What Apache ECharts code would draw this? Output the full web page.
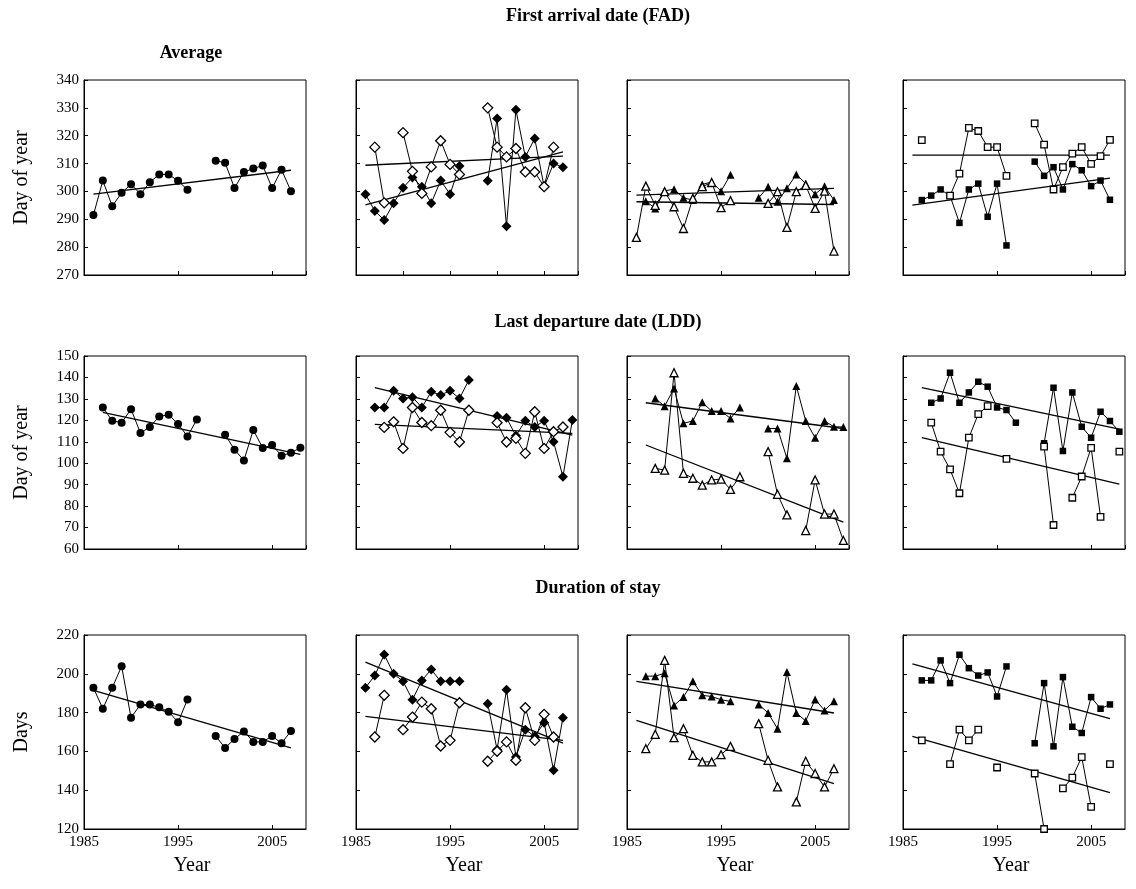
<!DOCTYPE html>
<html><head><meta charset="utf-8">
<script src="https://cdn.jsdelivr.net/npm/echarts@6/dist/echarts.min.js"></script>
<style>html,body{margin:0;padding:0;background:#fff}#c{width:1136px;height:889px}</style>
</head><body><div id="c"></div>
<script>
// Years 1986..2008 (index 0..22)
const years = [1986,1987,1988,1989,1990,1991,1992,1993,1994,1995,1996,1997,1998,1999,2000,2001,2002,2003,2004,2005,2006,2007,2008];
const xTickLabels = ['1985','1995','2005'];

// ---- First arrival date (FAD) ----
const fadAverage      = [291.5,303.9,294.7,299.5,302.6,299.0,303.3,306.1,306.1,303.8,300.6,null,null,311.0,310.3,301.2,307.0,308.2,309.3,301.2,307.8,300.1,null];
const fadDiamondFill  = [299.0,293.0,289.7,295.8,301.3,305.0,301.7,295.8,303.9,299.0,309.1,null,null,303.8,326.2,287.5,329.3,312.4,319.0,301.7,310.0,308.7,null];
const fadDiamondOpen  = [null,315.9,295.9,null,321.1,307.2,299.3,308.8,318.2,309.7,306.1,null,null,330.0,315.9,312.4,315.4,307.0,307.0,301.7,315.9,null,null];
const fadTriFill      = [null,296.5,293.9,300.2,300.8,297.7,296.9,302.5,303.4,300.1,306.0,null,null,297.7,301.7,296.3,301.1,306.1,302.8,299.0,301.9,296.9,null];
const fadTriOpen      = [283.5,301.9,295.0,299.9,294.5,286.7,297.5,301.7,303.2,294.2,296.7,null,null,null,295.7,299.9,287.1,299.9,302.2,293.9,300.1,278.6,null];
const fadSqFill       = [null,296.9,298.5,300.7,298.4,288.7,300.7,302.8,290.9,302.8,280.6,null,null,310.7,305.6,308.7,300.7,309.8,307.6,301.9,303.9,297.0,null];
const fadSqOpen       = [null,318.4,null,null,298.5,306.4,322.8,321.7,315.9,315.9,305.6,null,null,324.4,316.8,300.7,308.7,313.6,315.9,309.9,312.7,318.5,null];
const fadAverageTrend     = [[1986,299.0],[2007,307.6]];
const fadDiamondFillTrend = [[1986,295.2],[2007,314.2]];
const fadDiamondOpenTrend = [[1986,309.4],[2007,312.7]];
const fadTriFillTrend     = [[1986,298.7],[2007,301.1]];
const fadTriOpenTrend     = [[1986,296.3],[2007,295.3]];
const fadSqFillTrend      = [[1986,295.1],[2007,304.8]];
const fadSqOpenTrend      = [[1986,313.0],[2007,313.0]];

// ---- Last departure date (LDD) ----
const lddAverage      = [null,126.0,119.8,118.9,125.2,114.1,116.9,121.8,122.6,118.3,112.5,120.4,null,null,113.3,106.3,101.3,115.5,107.1,108.5,103.5,104.9,107.2];
const lddDiamondFill  = [null,126.0,126.0,133.8,130.2,130.8,126.0,133.3,131.8,133.8,130.2,138.8,null,null,122.0,121.2,112.8,119.8,116.9,119.8,110.0,93.7,120.1];
const lddDiamondOpen  = [null,null,116.7,119.3,106.9,126.0,119.0,117.5,124.7,114.4,109.9,124.7,null,null,118.9,109.9,111.6,104.6,124.0,106.9,114.7,116.9,null];
const lddTriFill      = [null,null,130.2,126.6,134.9,118.6,119.7,128.4,124.3,124.3,120.9,126.0,null,null,116.2,116.2,102.3,136.0,119.7,111.9,119.7,117.0,116.9];
const lddTriOpen      = [null,null,97.6,96.8,142.2,95.3,93.0,89.8,92.2,92.6,87.8,93.7,null,null,105.4,85.5,75.9,null,68.6,92.2,76.3,76.3,64.0];
const lddSqFill       = [null,null,128.2,130.2,142.2,128.2,133.0,138.0,135.7,126.0,124.8,118.9,null,null,109.3,135.2,105.7,133.0,117.0,111.9,124.0,119.7,114.7];
const lddSqOpen       = [null,null,118.9,105.4,97.1,86.0,111.9,122.9,126.6,null,102.0,null,null,null,107.7,71.2,null,83.9,93.8,107.2,75.0,null,105.4];
const lddAverageTrend     = [[1987,123.7],[2008,104.1]];
const lddDiamondFillTrend = [[1987,135.2],[2008,113.1]];
const lddDiamondOpenTrend = [[1987,118.1],[2008,113.9]];
const lddTriFillTrend     = [[1987,128.2],[2008,116.2]];
const lddTriOpenTrend     = [[1987,108.5],[2008,72.5]];
const lddSqFillTrend      = [[1987,135.2],[2008,115.9]];
const lddSqOpenTrend      = [[1987,111.9],[2008,90.3]];

// ---- Duration of stay ----
const durAverage      = [192.8,182.0,192.8,203.9,177.4,184.2,184.2,182.7,180.5,175.0,186.8,null,null,167.9,161.8,166.4,170.3,164.9,164.9,167.9,164.2,170.5,null];
const durDiamondFill  = [192.8,199.1,209.9,200.0,196.1,186.6,196.6,202.2,196.1,196.2,196.1,null,null,184.6,160.9,191.8,157.1,171.2,167.8,174.8,150.3,177.4,null];
const durDiamondOpen  = [null,167.4,188.9,null,171.2,177.7,185.4,182.0,162.8,165.7,185.1,null,null,154.9,160.1,164.9,155.4,182.5,165.7,179.1,167.4,null,null];
const durTriFill      = [null,198.8,198.8,200.3,183.7,188.0,196.1,188.9,188.3,186.6,185.8,null,null,184.2,179.8,171.7,200.9,179.8,175.7,186.8,181.1,185.9,null];
const durTriOpen      = [null,161.4,168.8,206.9,167.1,171.7,158.0,154.6,154.6,158.3,162.6,null,null,174.3,155.4,141.7,null,134.0,154.9,148.6,141.7,151.1,null];
const durSqFill       = [null,196.6,196.6,206.9,195.2,209.8,202.9,199.1,200.7,188.3,203.8,null,null,164.2,195.2,162.6,198.3,172.7,169.5,188.0,182.0,184.2,null];
const durSqOpen       = [null,165.7,null,null,153.4,171.2,165.7,171.2,null,151.7,null,null,null,148.6,120.0,null,140.9,146.5,157.1,131.4,null,153.4,null];
const durAverageTrend     = [[1986,191.4],[2007,161.8]];
const durDiamondFillTrend = [[1986,206.0],[2007,164.3]];
const durDiamondOpenTrend = [[1986,178.1],[2007,165.7]];
const durTriFillTrend     = [[1986,196.1],[2007,179.8]];
const durTriOpenTrend     = [[1986,176.0],[2007,143.4]];
const durSqFillTrend      = [[1986,205.1],[2007,176.9]];
const durSqOpenTrend      = [[1986,167.8],[2007,138.8]];

const FONT = '"Liberation Serif", "Times New Roman", serif';
const rows = [
  {top: 80,  height: 195, min: 270, max: 340, interval: 10, yName: 'Day of year', title: 'First arrival date (FAD)', titleY: 16},
  {top: 356, height: 193, min: 60,  max: 150, interval: 10, yName: 'Day of year', title: 'Last departure date (LDD)', titleY: 322},
  {top: 635, height: 194, min: 120, max: 220, interval: 20, yName: 'Days', title: 'Duration of stay', titleY: 588}
];
const lefts = [84, 356, 627, 903];
const W = 222;
const XMIN = 1985, XMAX = 2008.6;

const SYM = {
  circle: {symbol: 'circle', size: 8},
  diamond: {symbol: 'diamond', size: 10},
  triangle: {symbol: 'triangle', size: 8},
  rect: {symbol: 'rect', size: 6.5}
};

const panels = [
  [[[fadAverage,'circle',true]], [fadAverageTrend]],
  [[[fadDiamondOpen,'diamond',false],[fadDiamondFill,'diamond',true]], [fadDiamondFillTrend, fadDiamondOpenTrend]],
  [[[fadTriOpen,'triangle',false],[fadTriFill,'triangle',true]], [fadTriFillTrend, fadTriOpenTrend]],
  [[[fadSqOpen,'rect',false],[fadSqFill,'rect',true]], [fadSqFillTrend, fadSqOpenTrend]],
  [[[lddAverage,'circle',true]], [lddAverageTrend]],
  [[[lddDiamondOpen,'diamond',false],[lddDiamondFill,'diamond',true]], [lddDiamondFillTrend, lddDiamondOpenTrend]],
  [[[lddTriOpen,'triangle',false],[lddTriFill,'triangle',true]], [lddTriFillTrend, lddTriOpenTrend]],
  [[[lddSqOpen,'rect',false],[lddSqFill,'rect',true]], [lddSqFillTrend, lddSqOpenTrend]],
  [[[durAverage,'circle',true]], [durAverageTrend]],
  [[[durDiamondOpen,'diamond',false],[durDiamondFill,'diamond',true]], [durDiamondFillTrend, durDiamondOpenTrend]],
  [[[durTriOpen,'triangle',false],[durTriFill,'triangle',true]], [durTriFillTrend, durTriOpenTrend]],
  [[[durSqOpen,'rect',false],[durSqFill,'rect',true]], [durSqFillTrend, durSqOpenTrend]]
];

function toData(arr) { return years.map((y, i) => arr[i] == null ? [y, '-'] : [y, arr[i]]); }

const grid = [], xAxis = [], yAxis = [], series = [], graphic = [];
rows.forEach((row, r) => {
  lefts.forEach((left, c) => {
    const gi = r * 4 + c;
    grid.push({left: left, top: row.top, width: W, height: row.height, show: true, borderColor: '#000', borderWidth: 1, backgroundColor: 'transparent'});
    const fiveYear = (r === 0 && c === 1);
    xAxis.push({
      type: 'value', gridIndex: gi, min: XMIN, max: XMAX, interval: fiveYear ? 5 : 10,
      axisLine: {show: true, onZero: false, lineStyle: {color: '#000', width: 1}},
      axisTick: {show: true, inside: true, length: 4, lineStyle: {color: '#000'}},
      splitLine: {show: false},
      axisLabel: {show: r === 2, showMaxLabel: false, margin: 6, color: '#000', fontFamily: FONT, fontSize: 15,
        formatter: v => xTickLabels.indexOf(String(v)) >= 0 ? String(v) : ''}
    });
    yAxis.push({
      type: 'value', gridIndex: gi, min: row.min, max: row.max, interval: row.interval,
      axisLine: {show: true, lineStyle: {color: '#000', width: 1}},
      axisTick: {show: true, inside: true, length: 4, lineStyle: {color: '#000'}},
      splitLine: {show: false},
      axisLabel: {show: c === 0, margin: 5, color: '#000', fontFamily: FONT, fontSize: 15}
    });
    const def = panels[gi];
    def[1].forEach(tr => {
      series.push({type: 'line', xAxisIndex: gi, yAxisIndex: gi, data: tr, symbol: 'none', silent: true,
        lineStyle: {color: '#000', width: 1.3}, z: 2, animation: false});
    });
    def[0].forEach(([arr, sym, filled]) => {
      series.push({type: 'line', xAxisIndex: gi, yAxisIndex: gi, data: toData(arr),
        symbol: SYM[sym].symbol, symbolSize: SYM[sym].size, showSymbol: true, connectNulls: false, silent: true,
        lineStyle: {color: '#000', width: 1},
        itemStyle: {color: filled ? '#000' : '#fff', borderColor: '#000', borderWidth: filled ? 0 : 1.3, opacity: 1},
        z: filled ? 3 : 4, animation: false});
    });
    if (r === 2) {
      graphic.push({type: 'text', x: left + 108, y: 866, silent: true,
        style: {text: 'Year', font: '20px ' + FONT, fill: '#000', align: 'center', verticalAlign: 'middle'}});
    }
  });
  graphic.push({type: 'text', x: 598, y: row.titleY, silent: true,
    style: {text: row.title, font: 'bold 18px ' + FONT, fill: '#000', align: 'center', verticalAlign: 'middle'}});
  graphic.push({type: 'text', x: 22, y: row.top + row.height / 2, rotation: Math.PI / 2, silent: true,
    style: {text: row.yName, font: '20px ' + FONT, fill: '#000', align: 'center', verticalAlign: 'middle'}});
});
graphic.push({type: 'text', x: 191, y: 53, silent: true,
  style: {text: 'Average', font: 'bold 18px ' + FONT, fill: '#000', align: 'center', verticalAlign: 'middle'}});

const chart = echarts.init(document.getElementById('c'), null, {renderer: 'canvas'});
chart.setOption({animation: false, backgroundColor: '#fff', grid, xAxis, yAxis, series, graphic});
</script>
</body></html>
